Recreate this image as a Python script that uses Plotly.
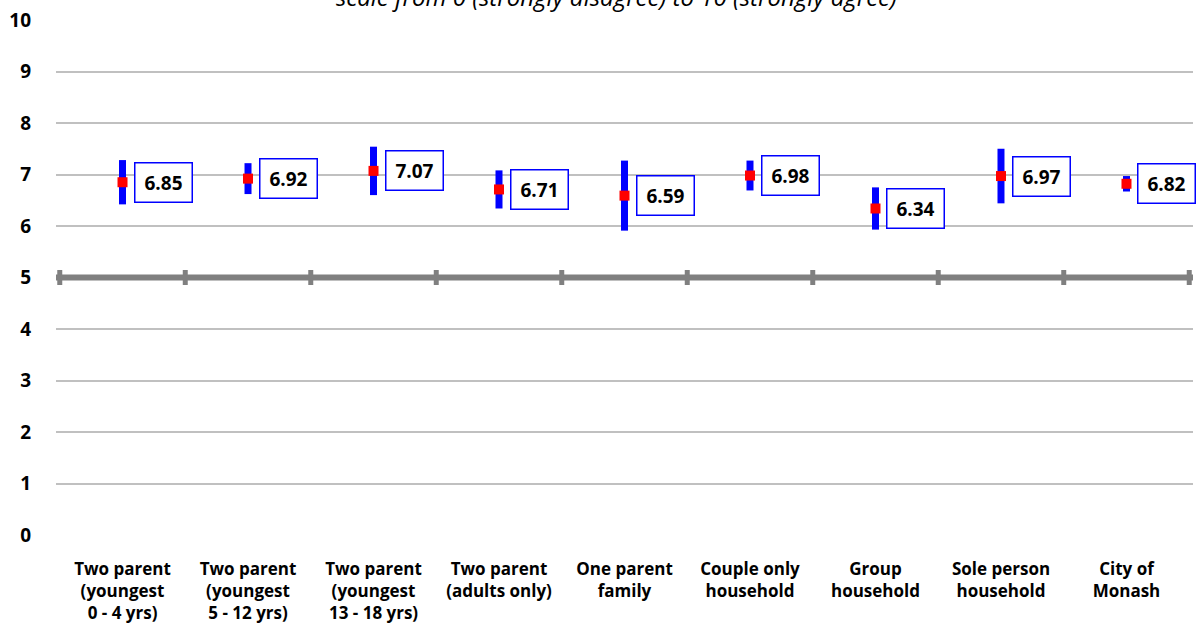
import plotly.graph_objects as go

# Huishoudtypes en gemiddelde score (0-10) met betrouwbaarheidsmarge
categories = [
    "Two parent<br>(youngest<br>0 - 4 yrs)",
    "Two parent<br>(youngest<br>5 - 12 yrs)",
    "Two parent<br>(youngest<br>13 - 18 yrs)",
    "Two parent<br>(adults only)",
    "One parent<br>family",
    "Couple only<br>household",
    "Group<br>household",
    "Sole person<br>household",
    "City of<br>Monash",
]
means = [6.85, 6.92, 7.07, 6.71, 6.59, 6.98, 6.34, 6.97, 6.82]
margins = [0.43, 0.30, 0.47, 0.37, 0.68, 0.29, 0.41, 0.53, 0.15]
y_ticks = list(range(0, 11))

subtitle = "scale from 0 (strongly disagree) to 10 (strongly agree)"

fig = go.Figure()

fig.add_trace(go.Scatter(
    x=categories,
    y=means,
    mode="markers",
    marker=dict(symbol="square", size=10, color="#ff0000"),
    error_y=dict(type="data", array=margins, visible=True,
                 color="#0000ff", thickness=7, width=0),
    showlegend=False,
    hoverinfo="y",
))

# Labels met waarde in blauw kader
for cat, val in zip(categories, means):
    fig.add_annotation(
        x=cat, y=val, xref="x", yref="y",
        text=f"<b>{val:.2f}</b>",
        showarrow=False,
        xanchor="left", yanchor="middle", xshift=11,
        font=dict(family="Open Sans", size=19, color="black"),
        bgcolor="white", bordercolor="#0000ff", borderwidth=1.5, borderpad=6,
        width=44,
    )

# Dikke lijn op 5 met streepjes tussen de categorieën
fig.add_shape(type="line", xref="paper", yref="y", x0=0, x1=1, y0=5, y1=5,
              line=dict(color="#808080", width=6), layer="above")
for i in range(len(categories) + 1):
    fig.add_shape(type="line", xref="x", yref="y", x0=i - 0.5, x1=i - 0.5,
                  ysizemode="pixel", yanchor=5, y0=-7.5, y1=7.5,
                  line=dict(color="#808080", width=5), layer="above")

# Ondertitel, bovenaan half afgesneden zoals in het origineel
fig.add_annotation(
    x=0.493, y=1, xref="paper", yref="paper",
    text=f"<i>{subtitle}</i>", showarrow=False,
    xanchor="center", yanchor="bottom", yshift=5,
    font=dict(family="Open Sans", size=24, color="black"),
)

fig.update_layout(
    width=1200, height=635,
    margin=dict(l=56, r=7, t=18, b=100),
    plot_bgcolor="white", paper_bgcolor="white",
    font=dict(family="Open Sans", color="black"),
    xaxis=dict(
        type="category",
        range=[-0.53, len(categories) - 0.47],
        showgrid=False, showline=False, zeroline=False,
        tickfont=dict(family="Open Sans", size=17, color="black", weight="bold"),
        ticks="", ticklabelstandoff=22,
    ),
    yaxis=dict(
        range=[0, 10], tickvals=y_ticks,
        showgrid=True, gridcolor="#c0c0c0", gridwidth=2,
        zeroline=False, showline=False, ticks="",
        tickfont=dict(family="Open Sans", size=19, color="black", weight="bold"),
        ticklabelstandoff=24,
    ),
)

fig.write_html("out.html", config={"displayModeBar": False},
               post_script="document.body.style.margin='0';")
